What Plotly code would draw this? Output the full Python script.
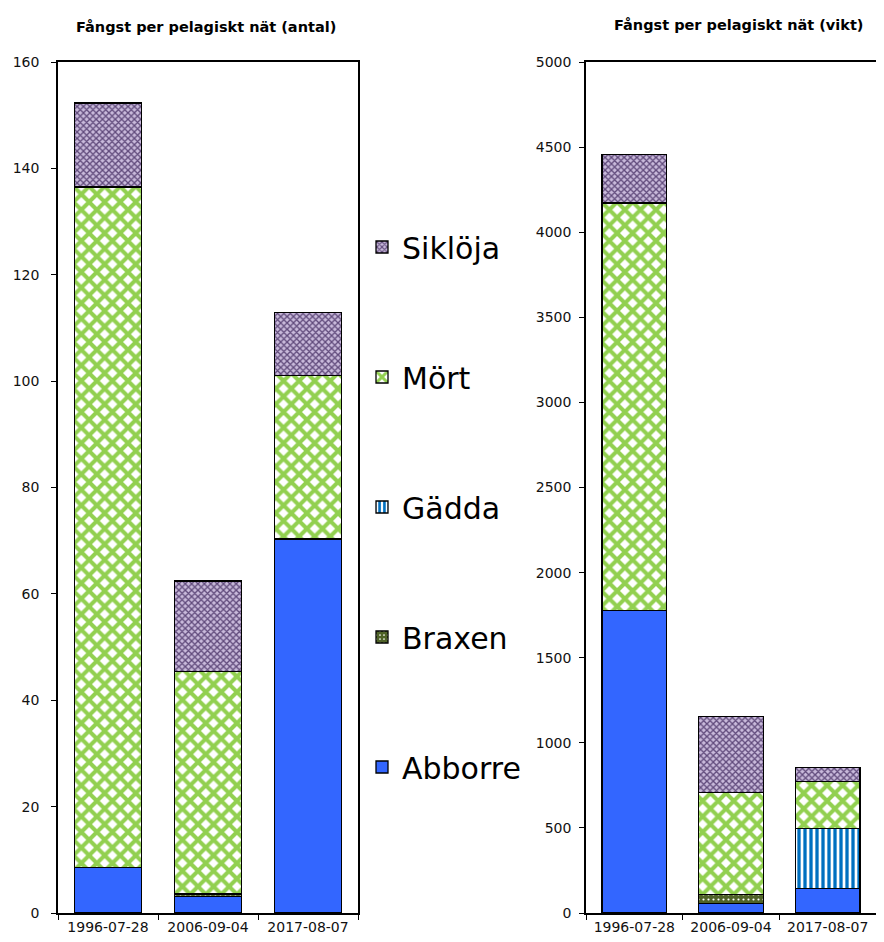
import plotly.graph_objects as go

dates = ["1996-07-28", "2006-09-04", "2017-08-07"]
species = ["Abborre", "Braxen", "Gädda", "Mört", "Siklöja"]

antal_abborre = [8.6, 3.1, 70.3]
antal_braxen = [0.0, 0.5, 0.0]
antal_gadda = [0.0, 0.0, 0.0]
antal_mort = [127.9, 41.8, 30.8]
antal_sikloja = [15.8, 17.0, 11.8]

vikt_abborre = [1779, 57, 143]
vikt_braxen = [0, 50, 0]
vikt_gadda = [0, 0, 352]
vikt_mort = [2392, 599, 278]
vikt_sikloja = [286, 447, 82]

title_left = "Fångst per pelagiskt nät (antal)"
title_right = "Fångst per pelagiskt nät (vikt)"

styles = {
    "Abborre": dict(color="#3366FF", pattern=dict(shape="")),
    "Braxen": dict(color="#4F6228", pattern=dict(shape=".", fgcolor="#FFFFFF", bgcolor="#4F6228",
                                                  size=5, solidity=0.15, fgopacity=1)),
    "Gädda": dict(color="#0070C0", pattern=dict(shape="|", fgcolor="#0070C0", bgcolor="#FFFFFF",
                                                 size=6, solidity=0.55, fgopacity=1)),
    "Mört": dict(color="#92D050", pattern=dict(shape="x", fgcolor="#92D050", bgcolor="#FFFFFF",
                                                size=11, solidity=0.6, fgopacity=1)),
    "Siklöja": dict(color="#8064A2", pattern=dict(shape="x", fgcolor="#604A7B", bgcolor="#C9BADB",
                                                   size=4.5, solidity=0.5, fgopacity=1)),
}

antal = [antal_abborre, antal_braxen, antal_gadda, antal_mort, antal_sikloja]
vikt = [vikt_abborre, vikt_braxen, vikt_gadda, vikt_mort, vikt_sikloja]
legend_ids = ["legend5", "legend4", "legend3", "legend2", "legend"]  # Abborre bottom ... Siklöja top

fig = go.Figure()
for name, vals, lg in zip(species, antal, legend_ids):
    st = styles[name]
    fig.add_trace(go.Bar(
        x=dates, y=vals, name=name, legend=lg,
        marker=dict(color=st["color"], pattern=st["pattern"], line=dict(color="#000000", width=1.3)),
        xaxis="x", yaxis="y", showlegend=True,
    ))
for name, vals in zip(species, vikt):
    st = styles[name]
    fig.add_trace(go.Bar(
        x=dates, y=vals, name=name,
        marker=dict(color=st["color"], pattern=st["pattern"], line=dict(color="#000000", width=1.3)),
        xaxis="x2", yaxis="y2", showlegend=False,
    ))

# the page puts the figure 8 px in from the top-left corner (body margin on all sides)
OFF = 8
W, H = 884 - OFF, 942 - 2 * OFF
plot_top, plot_bottom = 62 - OFF, 913 - OFF
ph = plot_bottom - plot_top
VISIBLE_RIGHT = 876  # page x where the visible area ends

font_family = "DejaVu Sans"
axis_common = dict(showline=True, linecolor="#000000", linewidth=1.5, showgrid=False,
                   zeroline=False, ticks="outside", ticklen=5, tickcolor="#000000", tickwidth=1.2,
                   tickfont=dict(family=font_family, size=14, color="#111111"))

legend_centers = {"legend": 247, "legend2": 377, "legend3": 507, "legend4": 637, "legend5": 767}
legend_layout = {}
for lg, yc in legend_centers.items():
    legend_layout[lg] = dict(x=(362 - OFF)/W, xanchor="left", y=(plot_bottom - (yc - OFF))/ph, yanchor="middle",
                             font=dict(family=font_family, size=30, color="#000000"),
                             bgcolor="rgba(0,0,0,0)", itemwidth=30)

fig.update_layout(
    width=W, height=H,
    margin=dict(l=0, r=0, t=plot_top, b=H - plot_bottom, autoexpand=False),
    paper_bgcolor="white", plot_bgcolor="white",
    barmode="stack", bargap=0.33,
    font=dict(family=font_family, color="#000000"),
    xaxis=dict(domain=[(58 - OFF)/W, (358 - OFF)/W], type="category", range=[-0.5, 2.5], tickson="boundaries",
               mirror=True, anchor="y", ticklabelstandoff=0, **axis_common),
    yaxis=dict(domain=[0, 1], range=[0, 160], dtick=20, mirror=True, anchor="x", ticklabelstandoff=9,
               **axis_common),
    xaxis2=dict(domain=[(586 - OFF)/W, (VISIBLE_RIGHT - OFF)/W], type="category", range=[-0.5, 2.5],
                tickson="boundaries", mirror=True, anchor="y2", ticklabelstandoff=0, **axis_common),
    yaxis2=dict(domain=[0, 1], range=[0, 5000], dtick=500, mirror=False, anchor="x2", ticklabelstandoff=5,
                **axis_common),
    annotations=[
        dict(text="<b>" + title_left + "</b>", x=(206 - OFF)/W, y=(plot_bottom - (27 - OFF))/ph,
             xref="paper", yref="paper", showarrow=False, xanchor="center", yanchor="middle",
             font=dict(family=font_family, size=14.5, color="#000000")),
        dict(text="<b>" + title_right + "</b>", x=(738 - OFF)/W, y=(plot_bottom - (25 - OFF))/ph,
             xref="paper", yref="paper", showarrow=False, xanchor="center", yanchor="middle",
             font=dict(family=font_family, size=14.5, color="#000000")),
    ],
    **legend_layout,
)

fig.write_html("out.html")
